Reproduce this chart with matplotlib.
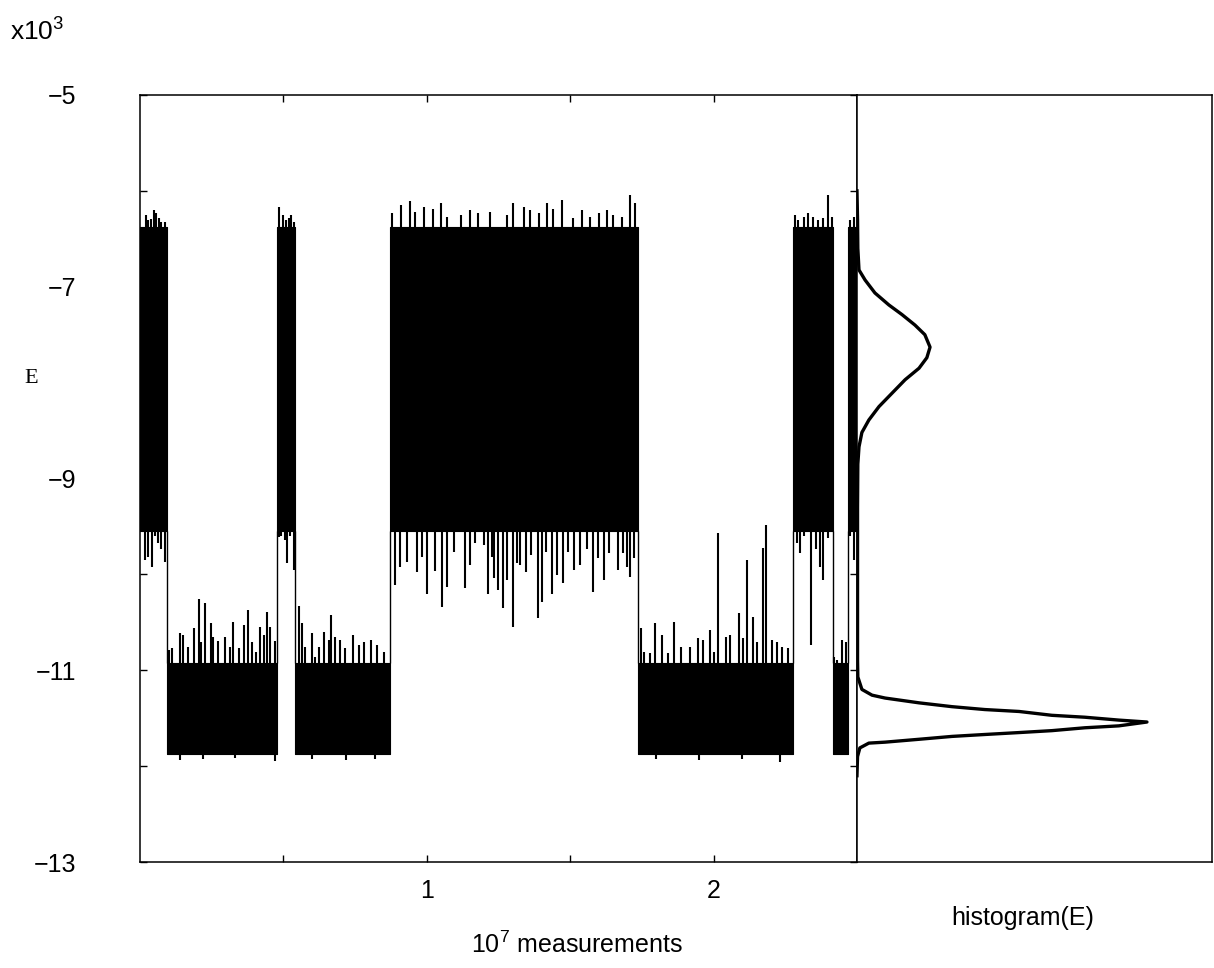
import matplotlib.pyplot as plt

plt.rcParams['font.family'] = ['Liberation Sans', 'DejaVu Sans']
plt.rcParams['mathtext.fontset'] = 'custom'
plt.rcParams['mathtext.rm'] = 'Liberation Sans'

# run segments (10^7 measurements) and the phase the system sits in
seg_start = [0.0, 0.094, 0.479, 0.542, 0.872, 1.735, 2.278, 2.417, 2.469]
seg_end = [0.094, 0.479, 0.542, 0.872, 1.735, 2.278, 2.417, 2.469, 2.5]
seg_phase = ['high', 'low', 'high', 'low', 'high', 'low', 'high', 'low', 'high']

# dense part of each band (E / 10^3)
band = {'high': (-6.38, -9.55), 'low': (-10.92, -11.87)}

# excursions above / below the dense part, high-energy phase
hi_up_x = [0.021, 0.028, 0.038, 0.049, 0.056, 0.066, 0.073, 0.087,
           0.486, 0.497, 0.510, 0.521, 0.528, 0.538,
           0.88, 0.91, 0.94, 0.96, 0.99, 1.02, 1.05, 1.07, 1.12, 1.15, 1.18, 1.22, 1.28, 1.30, 1.34,
           1.36, 1.39, 1.42, 1.44, 1.47, 1.51, 1.54, 1.57, 1.60, 1.63, 1.65, 1.68, 1.71, 1.725,
           2.285, 2.295, 2.316, 2.330, 2.347, 2.365, 2.382, 2.399, 2.413,
           2.475, 2.49]
hi_up_e = [-6.25, -6.30, -6.29, -6.20, -6.23, -6.28, -6.33, -6.32,
           -6.17, -6.25, -6.30, -6.28, -6.25, -6.32,
           -6.23, -6.15, -6.11, -6.22, -6.17, -6.19, -6.13, -6.27, -6.25, -6.20, -6.23, -6.22, -6.25, -6.13, -6.17,
           -6.20, -6.23, -6.13, -6.19, -6.10, -6.28, -6.20, -6.27, -6.23, -6.20, -6.25, -6.27, -6.04, -6.13,
           -6.25, -6.30, -6.27, -6.23, -6.27, -6.30, -6.28, -6.04, -6.27,
           -6.30, -6.27]
hi_dn_x = [0.017, 0.028, 0.042, 0.052, 0.063, 0.073, 0.087,
           0.486, 0.493, 0.507, 0.514, 0.524, 0.538,
           0.889, 0.906, 0.931, 0.965, 0.983, 1.000, 1.028, 1.052, 1.069, 1.094, 1.132, 1.150, 1.167, 1.198, 1.212,
           1.226, 1.236, 1.250, 1.267, 1.281, 1.299, 1.313, 1.326, 1.347, 1.365, 1.389, 1.403, 1.417, 1.438, 1.455,
           1.476, 1.493, 1.514, 1.535, 1.559, 1.580, 1.597, 1.618, 1.635, 1.667, 1.684, 1.698, 1.708, 1.722,
           2.290, 2.300, 2.316, 2.340, 2.358, 2.372, 2.382, 2.399,
           2.475, 2.49]
hi_dn_e = [-9.85, -9.82, -9.92, -9.60, -9.67, -9.74, -9.87,
           -9.61, -9.60, -9.64, -9.88, -9.60, -9.95,
           -10.11, -9.92, -9.87, -9.98, -9.82, -10.21, -9.97, -10.34, -10.13, -9.77, -10.14, -9.90, -9.67, -9.69, -10.21,
           -9.82, -10.04, -10.16, -10.35, -10.06, -10.55, -9.88, -9.90, -9.98, -9.80, -10.45, -10.29, -9.77, -10.21, -10.01,
           -10.09, -9.77, -9.95, -9.90, -9.74, -10.18, -9.83, -10.06, -9.78, -9.95, -9.78, -9.92, -10.03, -9.83,
           -9.67, -9.78, -9.60, -10.74, -9.74, -9.92, -10.06, -9.62,
           -9.60, -9.85]

# excursions, low-energy phase
lo_up_x = [0.101, 0.111, 0.139, 0.149, 0.167, 0.188, 0.205, 0.212, 0.226, 0.247, 0.253, 0.271, 0.295,
           0.313, 0.326, 0.347, 0.361, 0.378, 0.389, 0.406, 0.420, 0.434, 0.444, 0.455, 0.472,
           0.556, 0.566, 0.576, 0.601, 0.611, 0.625, 0.642, 0.660, 0.667, 0.681, 0.698, 0.715,
           0.743, 0.764, 0.781, 0.806, 0.826, 0.851,
           1.747, 1.757, 1.778, 1.795, 1.819, 1.840, 1.861, 1.885, 1.917, 1.944, 1.962, 1.986, 2.000, 2.017,
           2.042, 2.056, 2.087, 2.104, 2.118, 2.139, 2.153, 2.174, 2.184, 2.205, 2.222, 2.240, 2.260,
           2.420, 2.431, 2.448, 2.462]
lo_up_e = [-10.79, -10.77, -10.61, -10.63, -10.76, -10.56, -10.26, -10.71, -10.30, -10.51, -10.65, -10.70, -10.65,
           -10.76, -10.50, -10.77, -10.53, -10.37, -10.71, -10.81, -10.55, -10.63, -10.39, -10.55, -10.70,
           -10.33, -10.51, -10.76, -10.61, -10.86, -10.76, -10.60, -10.68, -10.42, -10.65, -10.68, -10.77,
           -10.63, -10.74, -10.71, -10.68, -10.74, -10.81,
           -10.56, -10.81, -10.82, -10.51, -10.63, -10.82, -10.50, -10.76, -10.76, -10.66, -10.68, -10.58, -10.81, -9.57,
           -10.65, -10.63, -10.40, -10.66, -9.85, -10.44, -10.71, -9.72, -9.48, -10.68, -10.71, -10.76, -10.77,
           -10.86, -10.89, -10.68, -10.71]
lo_dn_x = [0.14, 0.22, 0.33, 0.47, 0.60, 0.72, 0.82, 1.80, 1.95, 2.10, 2.23]
lo_dn_e = [-11.94, -11.93, -11.92, -11.95, -11.93, -11.94, -11.93, -11.93, -11.94, -11.93, -11.96]

# histogram(E), relative counts
hist_e = [-6.0, -6.3, -6.6, -6.825, -6.93, -7.065, -7.19, -7.29, -7.40, -7.50, -7.63, -7.74, -7.85, -7.97,
          -8.11, -8.25, -8.39, -8.52, -8.67, -8.85, -9.3, -9.9, -10.5, -10.9, -11.07, -11.20, -11.26, -11.29,
          -11.34, -11.38, -11.41, -11.43, -11.47, -11.49, -11.52, -11.54, -11.58, -11.60, -11.63, -11.65,
          -11.67, -11.69, -11.72, -11.75, -11.76, -11.81, -11.90, -12.1]
hist_n = [0.0, 0.002, 0.003, 0.007, 0.028, 0.062, 0.110, 0.155, 0.200, 0.234, 0.252, 0.241, 0.214, 0.166,
          0.121, 0.076, 0.041, 0.017, 0.007, 0.003, 0.002, 0.002, 0.002, 0.002, 0.003, 0.017, 0.052, 0.097,
          0.214, 0.328, 0.441, 0.559, 0.672, 0.786, 0.903, 1.0, 0.903, 0.786, 0.672, 0.559,
          0.441, 0.328, 0.214, 0.097, 0.041, 0.010, 0.002, 0.0]

fig = plt.figure(figsize=(12.14, 9.68), dpi=100)
ax1 = fig.add_axes([0.1153, 0.1095, 0.5906, 0.7924])
ax2 = fig.add_axes([0.7059, 0.1095, 0.2924, 0.7924])

# time series
for s, e, p in zip(seg_start, seg_end, seg_phase):
    top, bot = band[p]
    ax1.fill_between([s, e], [top, top], [bot, bot], color='k', lw=0.8)
for i in range(1, len(seg_start)):
    ax1.vlines(seg_start[i], band['low'][0], band['high'][1], color='k', lw=1.0)
ax1.vlines(hi_up_x, band['high'][0], hi_up_e, color='k', lw=1.5)
ax1.vlines(hi_dn_x, band['high'][1], hi_dn_e, color='k', lw=1.5)
ax1.vlines(lo_up_x, band['low'][0], lo_up_e, color='k', lw=1.5)
ax1.vlines(lo_dn_x, band['low'][1], lo_dn_e, color='k', lw=1.5)

ax1.set_xlim(0, 2.5)
ax1.set_ylim(-13, -5)
ax1.set_xticks([0.5, 1, 1.5, 2, 2.5])
ax1.set_xticklabels(['', '1', '', '2', ''])
yt = list(range(-13, -4))
ax1.set_yticks(yt)
ax1.set_yticklabels([('\u2212%d' % -v) if v % 2 else '' for v in yt])
ax1.tick_params(direction='in', length=5, width=1, top=True, right=True, labelsize=18)
ax1.tick_params(axis='y', pad=46)
ax1.tick_params(axis='x', pad=12)

# histogram panel
ax2.plot(hist_n, hist_e, 'k-', lw=2.4, solid_joinstyle='round')
ax2.set_xlim(0, 1.224)
ax2.set_ylim(-13, -5)
ax2.set_xticks([])
ax2.set_yticks([])

for ax in (ax1, ax2):
    for sp in ax.spines.values():
        sp.set_linewidth(1.1)

fig.text(0.842, 0.052, 'histogram(E)', fontsize=18, ha='center', va='center')
fig.text(0.475, 0.024, r'10$^{\mathrm{7}}$ measurements', fontsize=18, ha='center', va='center')
fig.text(0.026, 0.609, 'E', fontsize=16, family='Liberation Serif', ha='center', va='center')
fig.text(0.008, 0.968, r'x10$^{\mathrm{3}}$', fontsize=19, ha='left', va='center')

fig.savefig('out.png', dpi=100)
